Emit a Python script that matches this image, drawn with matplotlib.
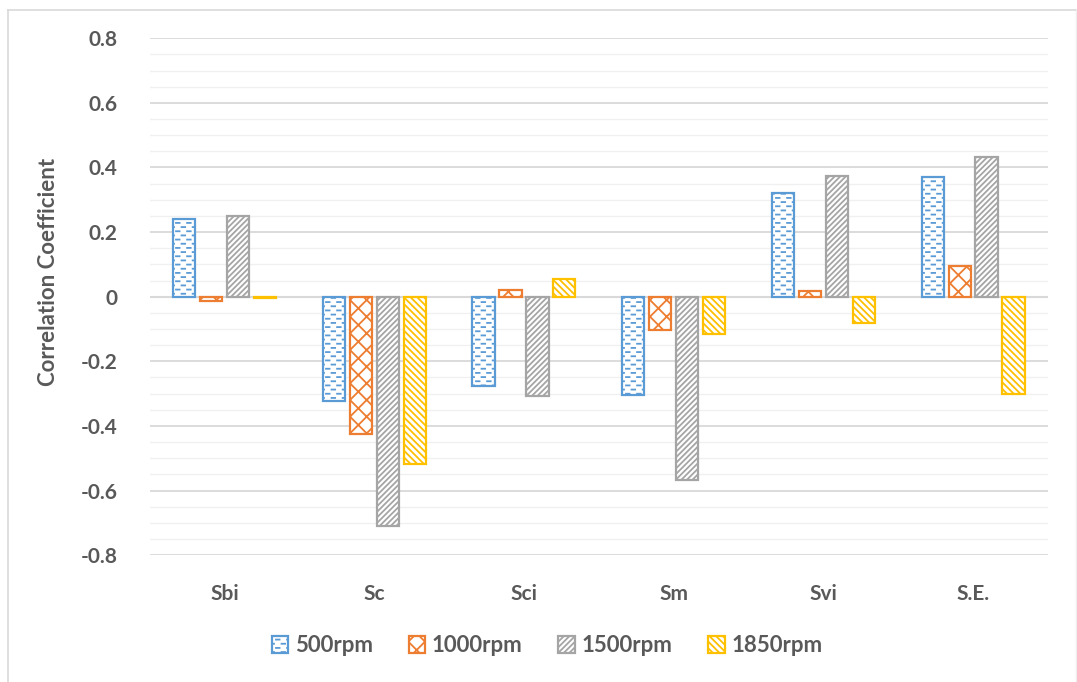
import numpy as np
import matplotlib
matplotlib.use("Agg")
import matplotlib.pyplot as plt
import matplotlib.hatch as mhatch
from matplotlib.path import Path
from matplotlib.lines import Line2D
import warnings

warnings.filterwarnings('ignore')

# ==========================================
# data
# ==========================================
categories = ['Sbi', 'Sc', 'Sci', 'Sm', 'Svi', 'S.E.']
series_names = ['500rpm', '1000rpm', '1500rpm', '1850rpm']
r500 = [0.241, -0.324, -0.278, -0.303, 0.322, 0.370]
r1000 = [-0.012, -0.426, 0.022, -0.102, 0.019, 0.096]
r1500 = [0.250, -0.710, -0.306, -0.568, 0.374, 0.433]
r1850 = [-0.005, -0.519, 0.056, -0.117, -0.083, -0.300]
y_ticks = [0.8, 0.6, 0.4, 0.2, 0, -0.2, -0.4, -0.6, -0.8]
y_ticklabels = ['0.8', '0.6', '0.4', '0.2', '0', '-0.2', '-0.4', '-0.6', '-0.8']

colors = ['#5B9BD5', '#ED7D31', '#A5A5A5', '#FFC000']
hatches = ['____', 'xx', '//////', '\\\\\\\\\\']


# short staggered dashes (like the office "dashed horizontal" fill)
class DashedHorizontalHatch(mhatch.HatchPatternBase):
    def __init__(self, hatch, density):
        self.num_rows = int(hatch.count('_') * density)
        self.num_cols = max(int(round(self.num_rows * 3 / 8)), 1)
        self.num_vertices = self.num_rows * (self.num_cols + 1) * 2

    def set_vertices_and_codes(self, vertices, codes):
        dash = 0.32 / self.num_cols
        rows = (np.arange(self.num_rows) + 0.5) / self.num_rows
        k = 0
        for r, y in enumerate(rows):
            off = 0.0 if r % 2 == 0 else 0.5
            for c in range(self.num_cols + 1):
                xc = (c + off) / self.num_cols
                vertices[k] = (max(xc - dash / 2, 0.0), y)
                vertices[k + 1] = (min(xc + dash / 2, 1.0), y)
                codes[k] = Path.MOVETO
                codes[k + 1] = Path.LINETO
                k += 2


mhatch._hatch_types.append(DashedHorizontalHatch)

plt.rcParams['font.family'] = ['Lato', 'DejaVu Sans']
plt.rcParams['font.weight'] = 'bold'
plt.rcParams['hatch.linewidth'] = 1.3
TEXT = '#595959'

fig = plt.figure(figsize=(10.77, 6.82), dpi=100)
ax = fig.add_axes([0.139, 0.186, 0.834, 0.758])

x = np.arange(len(categories))
width = 0.148
step = 0.18
all_series = [r500, r1000, r1500, r1850]
for i, vals in enumerate(all_series):
    ax.bar(x + (i - 1.5) * step, vals, width, facecolor='white',
           edgecolor=colors[i], hatch=hatches[i], linewidth=1.6,
           label=series_names[i], zorder=3)

ax.set_xlim(-0.5, len(categories) - 0.5)
ax.set_ylim(-0.8, 0.8)
ax.set_yticks(y_ticks)
ax.set_yticklabels(y_ticklabels)
ax.set_yticks(np.arange(-0.8, 0.81, 0.05), minor=True)
ax.grid(True, which='major', axis='y', color='#D9D9D9', linewidth=1.3, zorder=0)
ax.grid(True, which='minor', axis='y', color='#F0F0F0', linewidth=1.0, zorder=0)
ax.axhline(0, color='#D9D9D9', linewidth=1.5, zorder=2)

ax.set_xticks(x)
ax.set_xticklabels(categories)
ax.tick_params(axis='x', length=0, pad=21, labelsize=15, labelcolor=TEXT)
ax.tick_params(axis='y', which='both', length=0, pad=23, labelsize=15, labelcolor=TEXT)
for s in ax.spines.values():
    s.set_visible(False)

ax.set_ylabel('Correlation Coefficient', fontsize=16, fontweight='bold', color=TEXT)
ax.yaxis.set_label_coords(-0.101, 0.548)

leg = fig.legend(loc='center', bbox_to_anchor=(0.508, 0.053), ncol=4, frameon=False,
                 fontsize=16, handlelength=0.75, handleheight=0.75, handletextpad=0.3,
                 columnspacing=1.6)
for t in leg.get_texts():
    t.set_color(TEXT)

# chart border
fig.add_artist(Line2D([8 / 1077, 8 / 1077], [0, 1 - 9.5 / 682], transform=fig.transFigure,
                      color='#D9D9D9', linewidth=1.2))
fig.add_artist(Line2D([8 / 1077, 1076 / 1077], [1 - 9.5 / 682, 1 - 9.5 / 682],
                      transform=fig.transFigure, color='#D9D9D9', linewidth=1.2))
fig.add_artist(Line2D([1076 / 1077, 1076 / 1077], [0, 1 - 9.5 / 682], transform=fig.transFigure,
                      color='#EEEEEE', linewidth=1.0))

fig.savefig('out.png', dpi=100)
